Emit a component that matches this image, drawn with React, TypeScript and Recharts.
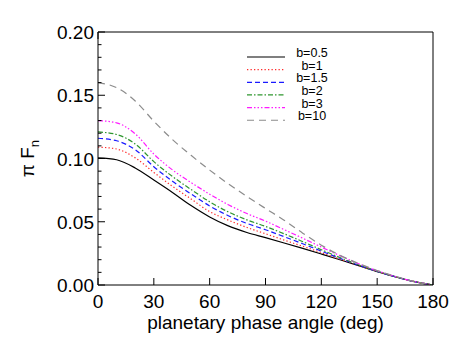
import { LineChart, Line, XAxis, YAxis, Legend, Label } from "recharts"

// phase angle samples (deg)
const angles = [0, 10, 20, 30, 40, 50, 60, 70, 80, 90, 100, 110, 120, 130, 140, 150, 160, 170, 180]

// pi * F_n for each b
const fluxB05 = [0.1005, 0.099, 0.0925, 0.083, 0.0732, 0.0628, 0.0538, 0.0467, 0.0415, 0.0374, 0.0332, 0.0289, 0.0245, 0.02, 0.0153, 0.0106, 0.0063, 0.0026, 0]
const fluxB1 = [0.109, 0.1075, 0.1005, 0.089, 0.078, 0.068, 0.058, 0.0513, 0.0455, 0.0405, 0.0355, 0.0306, 0.0256, 0.0205, 0.0155, 0.0107, 0.0064, 0.0026, 0]
const fluxB15 = [0.116, 0.114, 0.107, 0.0935, 0.082, 0.072, 0.0625, 0.0548, 0.0487, 0.0437, 0.0382, 0.0326, 0.0268, 0.0211, 0.0157, 0.0108, 0.0064, 0.0026, 0]
const fluxB2 = [0.121, 0.119, 0.1115, 0.0975, 0.0858, 0.0755, 0.0658, 0.0578, 0.0515, 0.0463, 0.0405, 0.0343, 0.0279, 0.0217, 0.016, 0.0109, 0.0065, 0.0027, 0]
const fluxB3 = [0.13, 0.1282, 0.1195, 0.1035, 0.091, 0.081, 0.0718, 0.0635, 0.0565, 0.0505, 0.0438, 0.037, 0.03, 0.0232, 0.0168, 0.0112, 0.0066, 0.0027, 0]
const fluxB10 = [0.16, 0.156, 0.1455, 0.1295, 0.115, 0.1025, 0.0908, 0.08, 0.07, 0.0605, 0.0512, 0.041, 0.0315, 0.0235, 0.017, 0.0115, 0.0068, 0.0028, 0]

const seriesKeys = ["b05", "b1", "b15", "b2", "b3", "b10"]
const seriesNames = ["b=0.5", "b=1", "b=1.5", "b=2", "b=3", "b=10"]
const seriesValues = [fluxB05, fluxB1, fluxB15, fluxB2, fluxB3, fluxB10]
const seriesColors = ["#000000", "#ff2a2a", "#1a1aff", "#2f962f", "#ff1aff", "#8c8c8c"]
const seriesDashes = ["", "1.3 2.2", "5 3", "5 2 1.5 2", "5 2 1.5 2 1.5 2 1.5 2", "7 5"]

const xTicks = [0, 30, 60, 90, 120, 150, 180]
const xTickLabels = ["0", "30", "60", "90", "120", "150", "180"]
const yTicks = [0, 0.01, 0.02, 0.03, 0.04, 0.05, 0.06, 0.07, 0.08, 0.09, 0.1, 0.11, 0.12, 0.13, 0.14, 0.15, 0.16, 0.17, 0.18, 0.19, 0.2]
const yTickLabels = ["0.00", "0.05", "0.10", "0.15", "0.20"]

const data = angles.map((a, i) => {
  const row: Record<string, number> = { angle: a }
  seriesKeys.forEach((k, j) => {
    row[k] = seriesValues[j][i]
  })
  return row
})

const FONT = "'Liberation Sans', Arial, Helvetica, sans-serif"
const MAJOR = 7
const MINOR = 3.5

const BottomTick = (props: any) => {
  const { x, y, index } = props
  return (
    <g>
      <line x1={x} x2={x} y1={y} y2={y - MAJOR} stroke="#000" />
      <text x={x} y={y + 23} textAnchor="middle" fontFamily={FONT} fontSize={19} fill="#000">
        {xTickLabels[index]}
      </text>
    </g>
  )
}

const TopTick = (props: any) => {
  const { x, y } = props
  return <line x1={x} x2={x} y1={y} y2={y + MAJOR} stroke="#000" />
}

const LeftTick = (props: any) => {
  const { x, y, index } = props
  const major = index % 5 === 0
  return (
    <g>
      <line x1={x} x2={x + (major ? MAJOR : MINOR)} y1={y} y2={y} stroke="#000" />
      {major && (
        <text x={x - 4} y={y + 7} textAnchor="end" fontFamily={FONT} fontSize={19} fill="#000">
          {yTickLabels[index / 5]}
        </text>
      )}
    </g>
  )
}

const RightTick = (props: any) => {
  const { x, y, index } = props
  const major = index % 5 === 0
  return <line x1={x} x2={x - (major ? MAJOR : MINOR)} y1={y} y2={y} stroke="#000" />
}

const XTitle = (props: any) => {
  const vb = props.viewBox
  return (
    <text x={vb.x + vb.width / 2} y={vb.y + 44} textAnchor="middle" fontFamily={FONT} fontSize={19} fill="#000">
      planetary phase angle (deg)
    </text>
  )
}

const YTitle = (props: any) => {
  const vb = props.viewBox
  const cx = vb.x - 63
  const cy = vb.y + vb.height / 2
  return (
    <text x={cx} y={cy} transform={`rotate(-90, ${cx}, ${cy})`} textAnchor="middle" fontFamily={FONT} fontSize={19} fill="#000">
      π F<tspan fontSize={13} dy={5}>n</tspan>
    </text>
  )
}

const LegendBox = () => (
  <svg width={110} height={90} style={{ display: "block" }}>
    {seriesNames.map((name, i) => {
      const y = 12 + i * 12.65
      return (
        <g key={name}>
          <line x1={0} x2={38} y1={y} y2={y} stroke={seriesColors[i]} strokeWidth={1.2} strokeDasharray={seriesDashes[i] || undefined} />
          <text x={65} y={y} textAnchor="middle" fontFamily={FONT} fontSize={12.5} fill="#000">
            {name}
          </text>
        </g>
      )
    })}
  </svg>
)

export default function App() {
  return (
    <div style={{ position: "absolute", left: 0, top: 0, background: "#fff" }}>
      <LineChart width={463} height={348} data={data} margin={{ top: 31, right: 29, bottom: 62, left: 97 }}>
        <XAxis
          dataKey="angle"
          type="number"
          domain={[0, 180]}
          ticks={xTicks}
          interval={0}
          height={1}
          tickSize={0}
          tickMargin={0}
          tick={BottomTick}
          axisLine={{ stroke: "#000" }}
        >
          <Label content={XTitle} />
        </XAxis>
        <XAxis
          xAxisId="top"
          orientation="top"
          type="number"
          domain={[0, 180]}
          ticks={xTicks}
          interval={0}
          height={1}
          tickSize={0}
          tickMargin={0}
          tick={TopTick}
          axisLine={{ stroke: "#000" }}
        />
        <YAxis
          type="number"
          domain={[0, 0.2]}
          ticks={yTicks}
          interval={0}
          width={1}
          tickSize={0}
          tickMargin={0}
          tick={LeftTick}
          axisLine={{ stroke: "#000" }}
          allowDataOverflow
        >
          <Label content={YTitle} />
        </YAxis>
        <YAxis
          yAxisId="right"
          orientation="right"
          type="number"
          domain={[0, 0.2]}
          ticks={yTicks}
          interval={0}
          width={1}
          tickSize={0}
          tickMargin={0}
          tick={RightTick}
          axisLine={{ stroke: "#000" }}
        />
        <Legend
          layout="vertical"
          align="center"
          verticalAlign="middle"
          content={LegendBox}
          wrapperStyle={{ left: 247, top: 45, width: 110, height: 90 }}
        />
        {seriesKeys.map((k, i) => (
          <Line
            key={k}
            type="monotone"
            dataKey={k}
            name={seriesNames[i]}
            stroke={seriesColors[i]}
            strokeWidth={1.2}
            strokeDasharray={seriesDashes[i] || undefined}
            dot={false}
            isAnimationActive={false}
          />
        ))}
      </LineChart>
    </div>
  )
}
